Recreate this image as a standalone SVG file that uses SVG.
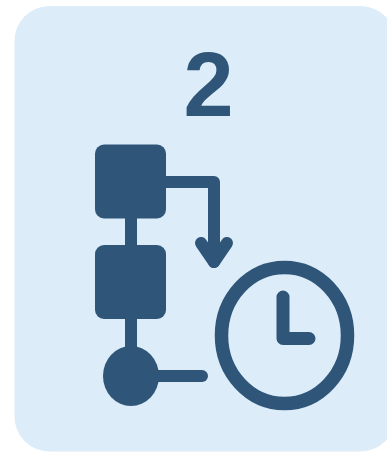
<svg xmlns="http://www.w3.org/2000/svg" width="387" height="453" viewBox="0 0 387 453">
<style>
.i{fill:#2f5578}
.l{fill:none;stroke:#2f5578;stroke-width:12;stroke-linecap:round;stroke-linejoin:round}
</style>
<rect width="387" height="453" fill="#ffffff"/>
<rect id="panel" x="14.500" y="6" width="381" height="445.500" rx="35" fill="#dcecf9"/>
<text id="number" x="208.500" y="116" font-family="'Liberation Sans', sans-serif" font-weight="700" font-size="90" text-anchor="middle" class="i">2</text>
<g id="connectors">
<path class="l" d="M131 215V250"/>
<path class="l" d="M131 315V350"/>
<path class="l" d="M164 182H214V262"/>
<path class="l" d="M201 243L214 262L227 243"/>
<path class="l" d="M155 376H202"/>
</g>
<g id="node-1"><rect class="i" x="95" y="144.500" width="71" height="74" rx="9"/></g>
<g id="node-2"><rect class="i" x="95" y="245" width="71" height="74" rx="9"/></g>
<g id="node-3"><ellipse class="i" cx="131" cy="376" rx="28" ry="30"/></g>
<g id="clock">
<ellipse cx="284.500" cy="335.500" rx="63" ry="68" fill="none" stroke="#2f5578" stroke-width="13.500"/>
<path class="l" d="M283 297V338.500H309" style="stroke-width:13"/>
</g>
</svg>
